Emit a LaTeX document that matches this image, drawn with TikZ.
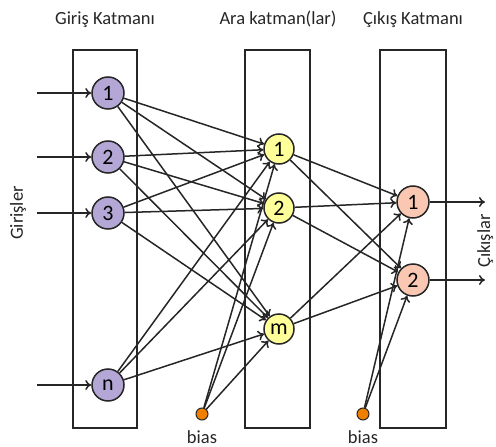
\documentclass[tikz,border=0pt]{standalone}
\usepackage{fontspec}
\setmainfont{Carlito}
\usetikzlibrary{arrows.meta}

\definecolor{girisrenk}{RGB}{180,167,214}
\definecolor{ararenk}{RGB}{255,255,153}
\definecolor{cikisrenk}{RGB}{250,200,178}
\definecolor{biasrenk}{RGB}{240,127,0}

\begin{document}
\begin{tikzpicture}[x=1pt,y=-1pt,
    noron/.style={circle,draw=black!85,line width=1.5pt,minimum size=32pt,inner sep=0pt,
      font=\fontsize{22}{22}\selectfont},
    ok/.style={-{To[length=6pt,width=10pt]},line width=1.5pt,black!85},
    kutu/.style={draw=black!85,line width=1.5pt},
    yazi/.style={font=\fontsize{18.5}{18.5}\selectfont,text=black!85},
    biasnokta/.style={circle,draw=black!85,line width=1pt,fill=biasrenk,minimum size=12pt,inner sep=0pt}]
    \useasboundingbox (0,0) rectangle (496,447);

    % Katman kutulari
    \draw[kutu] (73,50) rectangle (137,428);
    \draw[kutu] (245,50) rectangle (310,428);
    \draw[kutu] (380,50) rectangle (446,428);

    % Basliklar
    \node[yazi,anchor=base] (tg) at (105,24) {Giriş Katmanı};
    \node[yazi,anchor=base] (ta) at (278,24) {Ara katman(lar)};
    \node[yazi,anchor=base] (tc) at (413,24) {Çıkış Katmanı};
    \node[yazi,anchor=base,rotate=90] (tgl) at (23,213) {Girişler};
    \node[yazi,anchor=base,rotate=90] (tcl) at (490,241) {Çıkışlar};

    % Giris katmani
    \foreach \ad/\y in {1/93,2/157,3/213,n/385} {
        \node[noron,fill=girisrenk] (g\ad) at (108,\y) {\ad};
        \coordinate (gi\ad) at (37,\y);
        \draw[ok] (gi\ad) -- (g\ad);
    }

    % Ara katman
    \foreach \ad/\y in {1/149,2/208,m/329}
        \node[noron,fill=ararenk,minimum size=30pt] (a\ad) at (279,\y) {\ad};

    % Cikis katmani
    \foreach \ad/\y in {1/202,2/280} {
        \node[noron,fill=cikisrenk] (c\ad) at (413,\y) {\ad};
        \coordinate (co\ad) at (485,\y);
        \draw[ok] (c\ad) -- (co\ad);
    }

    % Bias
    \node[biasnokta] (b1) at (202,414) {};
    \node[biasnokta] (b2) at (363,414) {};
    \node[yazi,anchor=base] (b1y) at (202,443) {bias};
    \node[yazi,anchor=base] (b2y) at (363,443) {bias};

    % Baglantilar
    \foreach \i in {1,2,3,n}
        \foreach \j in {1,2,m}
            \draw[ok] (g\i) -- (a\j);
    \foreach \j in {1,2,m} {
        \draw[ok] (b1) -- (a\j);
        \foreach \k in {1,2}
            \draw[ok] (a\j) -- (c\k);
    }
    \foreach \k in {1,2}
        \draw[ok] (b2) -- (c\k);
\end{tikzpicture}
\end{document}
